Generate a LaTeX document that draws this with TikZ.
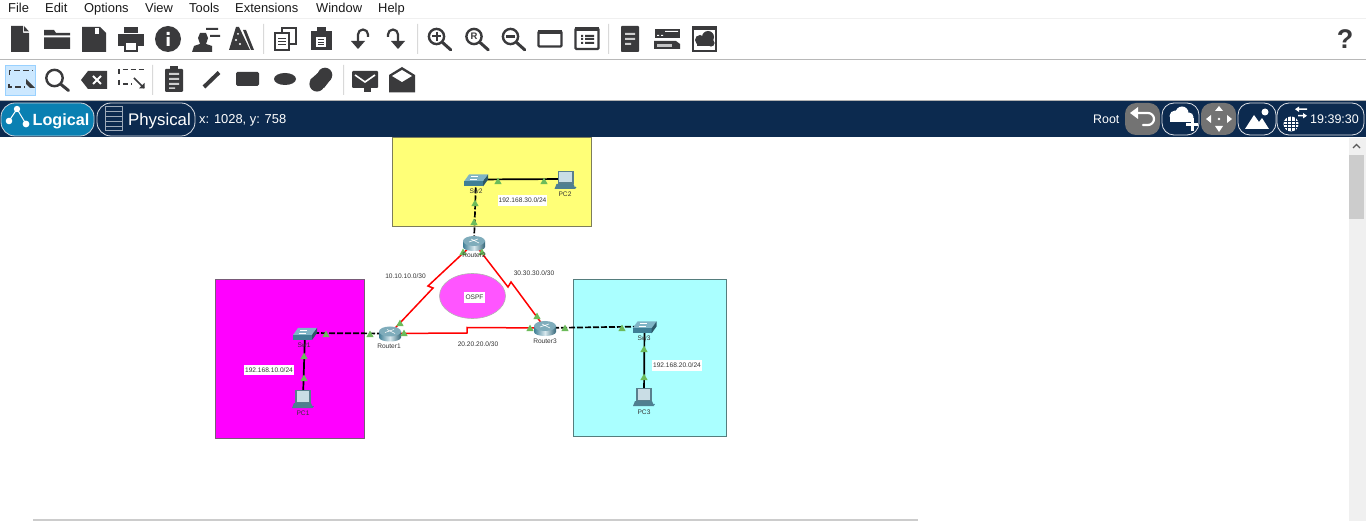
\documentclass[tikz,border=0pt]{standalone}
\usepackage{fontspec}
\setmainfont{Liberation Sans}
\usetikzlibrary{calc}
\definecolor{ico}{HTML}{3A3A3C}
\definecolor{navy}{HTML}{0C2A4F}
\definecolor{tealtop}{HTML}{7FB4C6}
\definecolor{tealdark}{HTML}{3F7F96}
\definecolor{greenmark}{HTML}{6CBB5A}
\definecolor{pcscreen}{HTML}{C9DDE5}
\tikzset{
  x=1pt,y=-1pt,
  menu/.style={font=\fontsize{12.9}{14}\selectfont,anchor=base west,inner sep=0pt,text=black!90},
  tiny/.style={font=\fontsize{6.6}{7}\selectfont,inner sep=1pt,text=black!80},
  tinybg/.style={tiny,fill=white,inner ysep=2.6pt},
  pill/.style={draw=white!85!navy,line width=.8pt,rounded corners=14pt},
  grayPill/.style={fill=black!55,rounded corners=11pt},
  wire/.style={black,line width=1.7pt},
  wired/.style={black,line width=1.7pt,dash pattern=on 6pt off 2pt},
  redwire/.style={red,line width=1.5pt,line join=miter},
  area/.style={line width=.8pt},
  pics/routerpic/.style={code={
    \shade[left color=tealdark,right color=tealdark!80!black,middle color=white!70!tealtop] (-11,-2) -- (-11,4) arc (180:0:11 and 4) -- (11,-2) -- cycle;
    \fill[tealtop!85!gray] (0,-2) ellipse (11 and 5);
    \draw[white,line width=.6pt] (-5,-1) -- (4,-4) (-3,-4) -- (5,0);
  }},
  pics/switchpic/.style={code={
    \fill[tealtop] (-7,-5) -- (12,-5) -- (7,2) -- (-12,2) -- cycle;
    \fill[tealdark] (-12,2) -- (7,2) -- (7,7) -- (-12,7) -- cycle;
    \fill[tealdark!70!black] (7,2) -- (12,-5) -- (12,0) -- (7,7) -- cycle;
    \draw[white,line width=.5pt] (-5,-3) -- (2,-3) (-6,0) -- (1,0);
  }},
  pics/pcpic/.style={code={
    \fill[tealdark!60!gray] (-8,-8) rectangle (8,5);
    \fill[pcscreen] (-6.5,-7) rectangle (6,3.5);
    \fill[tealdark!75!gray] (-9,5) -- (8,5) -- (10,10) -- (-11,10) -- cycle;
    \fill[tealdark] (10,8.5) circle (.9);
  }},
  pics/mark/.style={code={\fill[greenmark] (-3.7,3.2) -- (0,-3.4) -- (3.7,3.2) -- cycle;}},
  pics/zoomglass/.style={code={
    \draw[ico,line width=2.4pt] (0,0) circle (7.6);
    \draw[ico,line width=3pt,line cap=round] (5.8,5.8) -- (14.3,13.4);
  }},
}
\begin{document}
\begin{tikzpicture}
\useasboundingbox (0,0) rectangle (1366,521);
\clip (0,0) rectangle (1366,521);
\fill[white] (0,0) rectangle (1366,521);
% menu
\node[menu] (mFile) at (8,13) {File};
\node[menu] (mEdit) at (45,13) {Edit};
\node[menu] (mOpt) at (84,13) {Options};
\node[menu] (mView) at (145,13) {View};
\node[menu] (mTools) at (189,13) {Tools};
\node[menu] (mExt) at (235,13) {Extensions};
\node[menu] (mWin) at (316,13) {Window};
\node[menu] (mHelp) at (378,13) {Help};
\draw[black!6,line width=.8pt] (0,18.5) -- (1366,18.5);
\draw[black!28,line width=.8pt] (0,59.5) -- (1366,59.5);
\fill[black!15] (263,24) rectangle (264,54) (417,24) rectangle (418,54) (608,24) rectangle (609,54);
\fill[black!15] (152,65) rectangle (153,95) (343,65) rectangle (344,95);
% toolbar 1
\fill[ico] (11,26) -- (23,26) -- (23,33) -- (29,33) -- (29,52) -- (11,52) -- cycle (24,26) -- (29,31.5) -- (24,31.5) -- cycle;
\fill[ico] (44,30) -- (54,30) -- (56,33) -- (70,33) -- (70,35.5) -- (44,35.5) -- cycle (44,37.5) -- (70,37.5) -- (70,49) -- (44,49) -- cycle;
\fill[ico] (82,27) -- (100,27) -- (106,33) -- (106,52) -- (82,52) -- cycle;
\fill[white] (95,28) rectangle (99,34);
\fill[ico] (124,27) rectangle (138,33);
\fill[ico] (118,34) rectangle (144,46);
\fill[ico] (124,41) rectangle (138,52);
\fill[white] (126,43) rectangle (136,50);
\fill[ico] (168,39) circle (13);
\fill[white] (166.5,37) rectangle (169.5,46) (166.5,32) rectangle (169.5,35);
\fill[ico] (192,52) -- (194,46) -- (200,44) -- (198,38) -- (200,33) -- (206,33) -- (208,38) -- (206,44) -- (212,46) -- (212,52) -- cycle;
\fill[ico] (206,28) rectangle (218,30) (210,35) rectangle (220,37);
\fill[ico] (236,27) -- (239,27) -- (250,50) -- (229,50) -- cycle;
\fill[ico] (243,30) -- (246,30) -- (254,50) -- (251,50) -- cycle;
\fill[white] (236,40) circle (1.2) (240,44) circle (1.2) (238,34) circle (1);
% copy / paste
\draw[ico,line width=1.6pt,fill=white] (282,28) rectangle (296,44);
\draw[ico,line width=1.6pt,fill=white] (275,33) rectangle (289,50);
\draw[ico,line width=1pt] (278,39) -- (286,39) (278,42) -- (286,42) (278,45) -- (286,45);
\fill[ico] (311,31) rectangle (332,50);
\fill[ico] (317,27) rectangle (326,32);
\fill[white] (316,37) rectangle (326,47);
\draw[ico,line width=1pt] (318,40) -- (324,40) (318,42.5) -- (324,42.5) (318,45) -- (324,45);
% undo redo
\draw[ico,line width=2.2pt] (358,43) -- (358,34.5) arc (180:360:5) -- (368,37);
\fill[ico] (351,41) -- (365,41) -- (358,49) -- cycle;
\draw[ico,line width=2.2pt] (398,43) -- (398,34.5) arc (360:180:5) -- (388,37);
\fill[ico] (391,41) -- (405,41) -- (398,49) -- cycle;
% zoom icons
\pic at (436.5,36.5) {zoomglass};
\draw[ico,line width=2pt] (432,36.5) -- (441,36.5) (436.5,32) -- (436.5,41);
\pic at (474,36.5) {zoomglass};
\node[font=\bfseries\fontsize{9.5}{10}\selectfont,text=ico,inner sep=0pt] (zR) at (474,36.5) {R};
\pic at (510.5,36.5) {zoomglass};
\draw[ico,line width=2.4pt] (506,36.5) -- (515,36.5);
\draw[ico,line width=2.4pt,rounded corners=1pt] (538.5,31.5) rectangle (561.5,46.5);
\fill[ico] (538,30) rectangle (562,34);
\draw[ico,line width=2.4pt,fill=white,rounded corners=1pt] (575.5,28.5) rectangle (598.5,49);
\fill[ico] (575,27) rectangle (599,31);
\fill[ico] (581,35) rectangle (583,37) (581,38) rectangle (583,40) (581,42) rectangle (583,44) (585,35) rectangle (594,37) (585,38) rectangle (594,40) (585,42) rectangle (594,44);
% doc, device, cloud
\fill[ico,rounded corners=.8pt] (621,26) rectangle (639,52);
\fill[white!75!ico] (625,33) rectangle (635,35) (625,38) rectangle (635,40) (625,43) rectangle (631,45);
\fill[ico] (655,29) rectangle (680,38);
\fill[ico] (654,41) -- (676,41) -- (680,44) -- (680,49) -- (654,49) -- cycle;
\fill[white] (657,35) rectangle (659,36) (661,35) rectangle (663,36) (665,31) rectangle (678,32);
\fill[white!70!ico] (657,44) rectangle (672,47);
\fill[ico] (692,26) rectangle (717,52);
\fill[white] (694,30) rectangle (715,50);
\fill[ico] (700,40) circle (5);
\fill[ico] (708,37) circle (6);
\fill[ico] (711,43) circle (3.6);
\fill[ico] (697,41) rectangle (712,46.5);
\node[font=\bfseries\fontsize{27}{27}\selectfont,text=ico,inner sep=0pt] (helpq) at (1345,39) {?};
% toolbar 2
\draw[fill={rgb,255:red,204;green,232;blue,255},draw={rgb,255:red,153;green,209;blue,255},line width=.8pt] (5.5,65.5) rectangle (35.5,95);
\draw[ico,line width=1.8pt,dash pattern=on 6pt off 3pt] (9.5,75) -- (9.5,70.5) -- (33,70.5);
\draw[ico,line width=1.8pt,dash pattern=on 6pt off 3pt] (9,84) -- (9,87) -- (25,87);
\fill[ico] (26,79) -- (35,88) -- (30,88) -- (26,84) -- cycle;
\draw[ico,line width=2.4pt] (54.5,78) circle (8.2);
\draw[ico,line width=3pt,line cap=round] (60.5,84) -- (68.5,90.5);
\fill[ico] (81,80) -- (88,71) -- (107,71) -- (107,89) -- (88,89) -- cycle;
\draw[white,line width=1.8pt] (93,76) -- (101,84) (101,76) -- (93,84);
\draw[ico,line width=1.8pt,dash pattern=on 5pt off 3pt] (119,74) -- (119,69.5) -- (144,69.5);
\draw[ico,line width=1.8pt,dash pattern=on 5pt off 3pt] (119,80) -- (119,84) -- (132,84);
\draw[ico,line width=1.6pt] (134,78) -- (144,88);
\fill[ico] (139,88.5) -- (144.5,88.5) -- (144.5,83) -- cycle;
\fill[ico,rounded corners=1pt] (165,69) rectangle (183,92);
\fill[ico] (170,66.5) rectangle (178,70);
\fill[white!75!ico] (169,73) rectangle (179,75) (169,78) rectangle (179,80) (169,83) rectangle (179,85) (169,87.5) rectangle (175,89);
\draw[ico,line width=4pt] (204,87) -- (219,72.5);
\fill[ico,rounded corners=1.5pt] (236,72) rectangle (259,86);
\fill[ico] (285,79) ellipse (11 and 6);
\fill[ico] (325,75) circle (7.3);
\fill[ico] (317,84) circle (7.6);
\fill[ico] (320,71) -- (331,79) -- (324,88) -- (310,80) -- cycle;
\fill[ico,rounded corners=1pt] (352,71) rectangle (378,88);
\fill[ico] (364,88) rectangle (371,92.5);
\draw[white,line width=1.6pt] (355,75) -- (365,82) -- (375,75);
\fill[ico] (389,75) -- (402,67) -- (415,75) -- (415,92.5) -- (389,92.5) -- cycle;
\fill[white] (392,76) -- (402,70) -- (412,76) -- (402,82) -- cycle;
% header
\fill[navy] (0,101) rectangle (1366,137);
\draw[black!30,line width=.5pt] (0,100.5) -- (1366,100.5);
\draw[fill={rgb,255:red,10;green,128;blue,178},rounded corners=14pt,draw=white!80!navy,line width=.8pt] (1,103) rectangle (94,136);
\fill[white] (17,109) circle (3.2) (9,121) circle (3.3) (26,124) circle (3.4);
\draw[white,line width=1pt] (17,109) -- (9,121) (17,109) -- (26,124);
\node[font=\bfseries\fontsize{16.2}{18}\selectfont,text=white,anchor=base west,inner sep=0pt] (tLogical) at (32.5,125.5) {Logical};
\draw[pill] (97,103) rectangle (195,136);
\draw[white!60!navy,line width=.7pt] (105,106) rectangle (122,130);
\draw[white!60!navy,line width=.7pt] (105,111) -- (122,111) (105,116) -- (122,116) (105,121) -- (122,121) (105,126) -- (122,126);
\node[font=\fontsize{16.8}{18}\selectfont,text=white,anchor=base west,inner sep=0pt] (tPhysical) at (128,125.5) {Physical};
\node[font=\fontsize{12.9}{14}\selectfont,text=white,anchor=base west,inner sep=0pt] (tXY) at (199,124) {x: 1028, y: 758};
\node[font=\fontsize{12.4}{14}\selectfont,text=white,anchor=base west,inner sep=0pt] (tRoot) at (1093,124) {Root};
\fill[grayPill] (1125,103) rectangle (1160,135);
\draw[white,line width=2.2pt,line cap=round] (1136,113) -- (1148,113) arc (270:450:6) -- (1143,125);
\fill[white] (1130,113) -- (1138,107) -- (1138,119) -- cycle;
\draw[pill,rounded corners=12pt] (1162,103) rectangle (1199,135);
\fill[white] (1175,116) circle (5.5);
\fill[white] (1182,113) circle (6.5);
\fill[white] (1189,117) circle (4.5);
\fill[white] (1170,116) rectangle (1192,122);
\fill[white] (1186,123) rectangle (1198,126);
\fill[white] (1190.5,118.5) rectangle (1193.5,131);
\fill[grayPill] (1201,103) rectangle (1236,135);
\fill[white] (1219,106) -- (1223,111) -- (1215,111) -- cycle (1219,132) -- (1223,126) -- (1215,126) -- cycle (1206,119) -- (1211,115) -- (1211,123) -- cycle (1232,119) -- (1227,115) -- (1227,123) -- cycle;
\fill[white] (1219,119) circle (1.3);
\draw[pill,rounded corners=12pt] (1238,103) rectangle (1276,135);
\fill[white] (1245,129) -- (1254,115) -- (1259,122) -- (1262,118) -- (1269,129) -- cycle;
\fill[white] (1265,112) circle (3.5);
\draw[pill,rounded corners=12pt] (1277,103) rectangle (1364,135);
\fill[white] (1291,124) circle (7.5);
\draw[navy,line width=.5pt] (1291,116.5) -- (1291,131.5) (1287,117) -- (1287,131) (1295,117) -- (1295,131) (1283.5,121) -- (1298.5,121) (1283.5,124) -- (1298.5,124) (1283.5,127) -- (1298.5,127);
\fill[white] (1299,108.5) rectangle (1307,110) (1298,115) rectangle (1305,116.5);
\fill[white] (1295,109.2) -- (1299,106.5) -- (1299,112) -- cycle;
\fill[white] (1307,115.7) -- (1303,113) -- (1303,118.5) -- cycle;
\node[font=\fontsize{12.5}{14}\selectfont,text=white,anchor=base west,inner sep=0pt] (tTime) at (1310,124) {19:39:30};
% scrollbars
\fill[black!6] (1349,138) rectangle (1366,521);
\fill[black!20] (1349,155) rectangle (1364,219);
\draw[black!65,line width=1.3pt] (1353,148) -- (1356.5,144.5) -- (1360,148);
\fill[black!20] (33,519) rectangle (918,521);
% areas
\draw[area,fill={rgb,255:red,255;green,255;blue,119},draw={rgb,255:red,125;green,125;blue,90}] (392.5,137) rectangle (591.7,226);
\draw[area,fill={rgb,255:red,255;green,0;blue,255},draw={rgb,255:red,120;green,90;blue,120}] (215,279) rectangle (364.7,438.7);
\draw[area,fill={rgb,255:red,170;green,255;blue,255},draw={rgb,255:red,85;green,125;blue,125}] (573.5,279.5) rectangle (726,436.5);
\draw[black!30,fill={rgb,255:red,255;green,85;blue,255},line width=.6pt] (472.5,296) ellipse (33 and 22.5);
% device anchors
\coordinate (r1) at (390,333.5);
\coordinate (r2) at (474,243);
\coordinate (r3) at (545,328);
\coordinate (s1) at (305,333);
\coordinate (s2) at (476,179.5);
\coordinate (s3) at (644.5,326.5);
\coordinate (p1) at (303,398);
\coordinate (p2) at (565.5,179);
\coordinate (p3) at (644,396);
\coordinate (z12a) at (433,288);
\coordinate (z12b) at (428,286);
\coordinate (z23a) at (508,287);
\coordinate (z23b) at (511,282);
\coordinate (z13a) at (467,333);
\coordinate (z13b) at (467,327.5);
% links
\draw[redwire] (r1) -- (z12a) -- (z12b) -- (r2);
\draw[redwire] (r2) -- (z23a) -- (z23b) -- (r3);
\draw[redwire] (r1) -- (z13a) -- (z13b) -- (r3);
\draw[wired] (s1) -- (r1);
\draw[wired] (r3) -- (s3);
\draw[wired] (s2) -- (r2);
\draw[wire] (p1) -- (s1);
\draw[wire] (p3) -- (s3);
\draw[wire] (s2) -- (p2);
% devices
\pic at (r1) {routerpic};
\pic at (r2) {routerpic};
\pic at (r3) {routerpic};
\pic at (s1) {switchpic};
\pic at (s2) {switchpic};
\pic at (s3) {switchpic};
\pic at (p1) {pcpic};
\pic at (p2) {pcpic};
\pic at (p3) {pcpic};
% link lights
\foreach \p in {(498,181),(544,181),(475,203),(474,222),(463,252),(482,252),(326,334),(370,334),(400,323),(404,333),(304,356),(304,378),(537,316),(530,328),(565,328),(622,328),(644,349),(644,377)}
  \pic at \p {mark};
% labels
\node[tiny] (lr1) at (389,346) {Router1};
\node[tiny] (lr2) at (474,255.5) {Router2};
\node[tiny] (lr3) at (545,341.5) {Router3};
\node[tiny] (ls1) at (304,345.5) {Sw1};
\node[tiny] (ls2) at (476,191) {Sw2};
\node[tiny] (ls3) at (644,338.5) {Sw3};
\node[tiny] (lp1) at (303,413.5) {PC1};
\node[tiny] (lp2) at (565,194) {PC2};
\node[tiny] (lp3) at (644,412) {PC3};
\node[tinybg] (n1) at (522.5,200.5) {192.168.30.0/24};
\node[tinybg] (n2) at (269,370) {192.168.10.0/24};
\node[tinybg] (n3) at (677,365.5) {192.168.20.0/24};
\node[tinybg] (n4) at (405.5,276) {10.10.10.0/30};
\node[tinybg] (n5) at (534,273) {30.30.30.0/30};
\node[tinybg] (n6) at (478,344) {20.20.20.0/30};
\node[tinybg,minimum width=21pt,minimum height=11pt] (n7) at (474.5,297.5) {OSPF};
\end{tikzpicture}
\end{document}
